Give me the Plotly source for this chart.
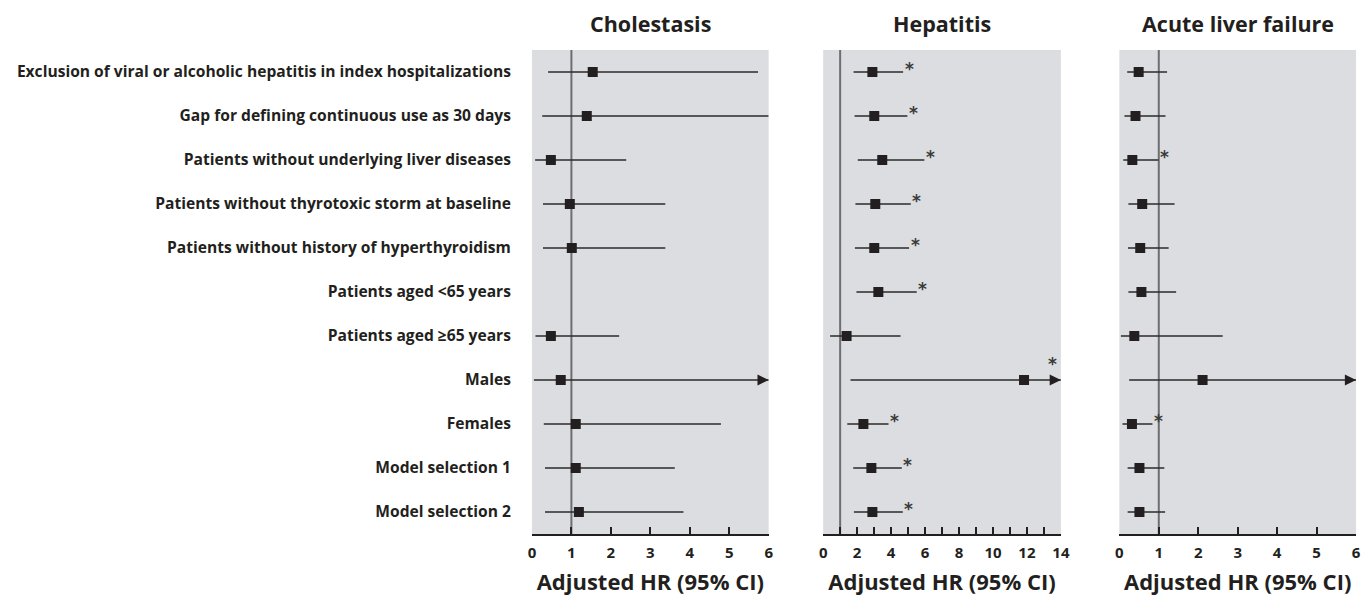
import plotly.graph_objects as go

# Sensitivity analyses (rows, top to bottom)
analyses = [
    "Exclusion of viral or alcoholic hepatitis in index hospitalizations",
    "Gap for defining continuous use as 30 days",
    "Patients without underlying liver diseases",
    "Patients without thyrotoxic storm at baseline",
    "Patients without history of hyperthyroidism",
    "Patients aged <65 years",
    "Patients aged \u226565 years",
    "Males",
    "Females",
    "Model selection 1",
    "Model selection 2",
]

# Adjusted HR with 95% CI; None upper = CI extends beyond the axis
chol_hr = [1.54, 1.39, 0.48, 0.96, 1.01, None, 0.48, 0.73, 1.11, 1.11, 1.19]
chol_lo = [0.41, 0.26, 0.08, 0.28, 0.28, None, 0.09, 0.05, 0.30, 0.33, 0.33]
chol_hi = [5.73, 6.00, 2.39, 3.38, 3.38, None, 2.21, None, 4.79, 3.62, 3.84]
chol_sig = [False] * 11

hep_hr = [2.90, 3.01, 3.48, 3.07, 3.01, 3.25, 1.38, 11.83, 2.37, 2.84, 2.90]
hep_lo = [1.79, 1.85, 2.04, 1.90, 1.87, 1.96, 0.41, 1.61, 1.42, 1.77, 1.81]
hep_hi = [4.71, 4.96, 5.96, 5.16, 5.06, 5.51, 4.56, None, 3.85, 4.63, 4.69]
hep_sig = [True, True, True, True, True, True, False, True, True, True, True]

alf_hr = [0.49, 0.41, 0.33, 0.58, 0.53, 0.56, 0.38, 2.11, 0.32, 0.51, 0.51]
alf_lo = [0.20, 0.13, 0.10, 0.23, 0.22, 0.23, 0.04, 0.25, 0.08, 0.21, 0.21]
alf_hi = [1.21, 1.17, 0.99, 1.40, 1.25, 1.44, 2.62, None, 0.84, 1.14, 1.16]
alf_sig = [False, False, True, False, False, False, False, False, True, False, False]

panels = [
    ("Cholestasis", chol_hr, chol_lo, chol_hi, chol_sig, 6, list(range(0, 7)), [str(v) for v in range(0, 7)]),
    ("Hepatitis", hep_hr, hep_lo, hep_hi, hep_sig, 14, list(range(0, 15)),
     [str(v) if v % 2 == 0 else "" for v in range(0, 15)]),
    ("Acute liver failure", alf_hr, alf_lo, alf_hi, alf_sig, 6, list(range(0, 7)), [str(v) for v in range(0, 7)]),
]

W, H = 1371, 596
px_domains = [(533, 772), (827, 1067), (1126, 1365)]
y_dom = [(H - 534) / H, (H - 50) / H]

FONT = "Open Sans"
INK = "#231f20"
BG = "#dcdde0"

fig = go.Figure()
annotations = []
rows = list(range(len(analyses)))

for k, (title, hr, lo, hi, sig, xmax, tvals, ttext) in enumerate(panels):
    ax_id = "" if k == 0 else str(k + 1)
    xref, yref = "x" + ax_id, "y" + ax_id

    ys, xs, plus, minus = [], [], [], []
    for i in rows:
        if hr[i] is None:
            continue
        top = hi[i] if hi[i] is not None else xmax
        ys.append(i)
        xs.append(hr[i])
        plus.append(top - hr[i])
        minus.append(hr[i] - lo[i])

    # reference line at HR = 1
    fig.add_trace(go.Scatter(
        x=[1, 1], y=[-0.5, 10.5], mode="lines",
        line=dict(color="#6d6e71", width=2),
        xaxis=xref, yaxis=yref, showlegend=False, hoverinfo="skip"))

    fig.add_trace(go.Scatter(
        x=xs, y=ys, mode="markers",
        marker=dict(symbol="square", size=10, color=INK),
        error_x=dict(type="data", array=plus, arrayminus=minus,
                     color="#2b2a2b", thickness=1.6, width=0),
        xaxis=xref, yaxis=yref, showlegend=False))

    for i in rows:
        if hr[i] is None:
            continue
        clipped = hi[i] is None
        if clipped:
            # arrowhead where the CI runs off the axis
            annotations.append(dict(
                x=xmax, y=i, ax=xmax - 0.05 * xmax, ay=i,
                xref=xref, yref=yref, axref=xref, ayref=yref,
                text="", showarrow=True, arrowhead=2, arrowsize=1.4,
                arrowwidth=1.6, arrowcolor=INK, standoff=0))
        if sig[i]:
            top = hi[i] if not clipped else xmax
            annotations.append(dict(
                x=top, y=i, xref=xref, yref=yref, text="*", showarrow=False,
                xshift=(6 if not clipped else -8), yshift=(3 if not clipped else 16),
                font=dict(family="DejaVu Sans", size=17, color="#3a3a3a", weight="bold")))

    d0, d1 = px_domains[k]
    fig.update_layout(**{
        "xaxis" + ax_id: dict(
            domain=[d0 / W, d1 / W], range=[0, xmax], anchor=yref,
            tickmode="array", tickvals=tvals, ticktext=ttext,
            ticks="inside", ticklen=7, tickwidth=1.5, tickcolor=INK,
            showline=True, linecolor=INK, linewidth=2, showgrid=False, zeroline=False,
            ticklabelstandoff=4,
            tickfont=dict(family=FONT, size=15, color=INK, weight="bold"),
            title=dict(text="Adjusted HR (95% CI)", standoff=17,
                       font=dict(family=FONT, size=22, color=INK, weight="bold")),
        ),
        "yaxis" + ax_id: dict(
            domain=y_dom, range=[10.5, -0.5], anchor=xref,
            tickmode="array", tickvals=rows,
            ticktext=analyses if k == 0 else [""] * len(rows),
            showticklabels=(k == 0), ticks="", showgrid=False, zeroline=False,
            showline=False, ticklabelstandoff=20,
            tickfont=dict(family=FONT, size=15.6, color=INK, weight="bold"),
        ),
    })

    annotations.append(dict(
        x=(d0 + d1) / 2 / W, y=(H - 23) / H, xref="paper", yref="paper",
        text=title, showarrow=False, xanchor="center", yanchor="middle",
        font=dict(family=FONT, size=21.5, color=INK, weight="bold")))

fig.update_layout(
    width=W, height=H, margin=dict(l=0, r=0, t=0, b=0),
    paper_bgcolor="white", plot_bgcolor=BG,
    annotations=annotations,
)

fig.write_html("out.html")
